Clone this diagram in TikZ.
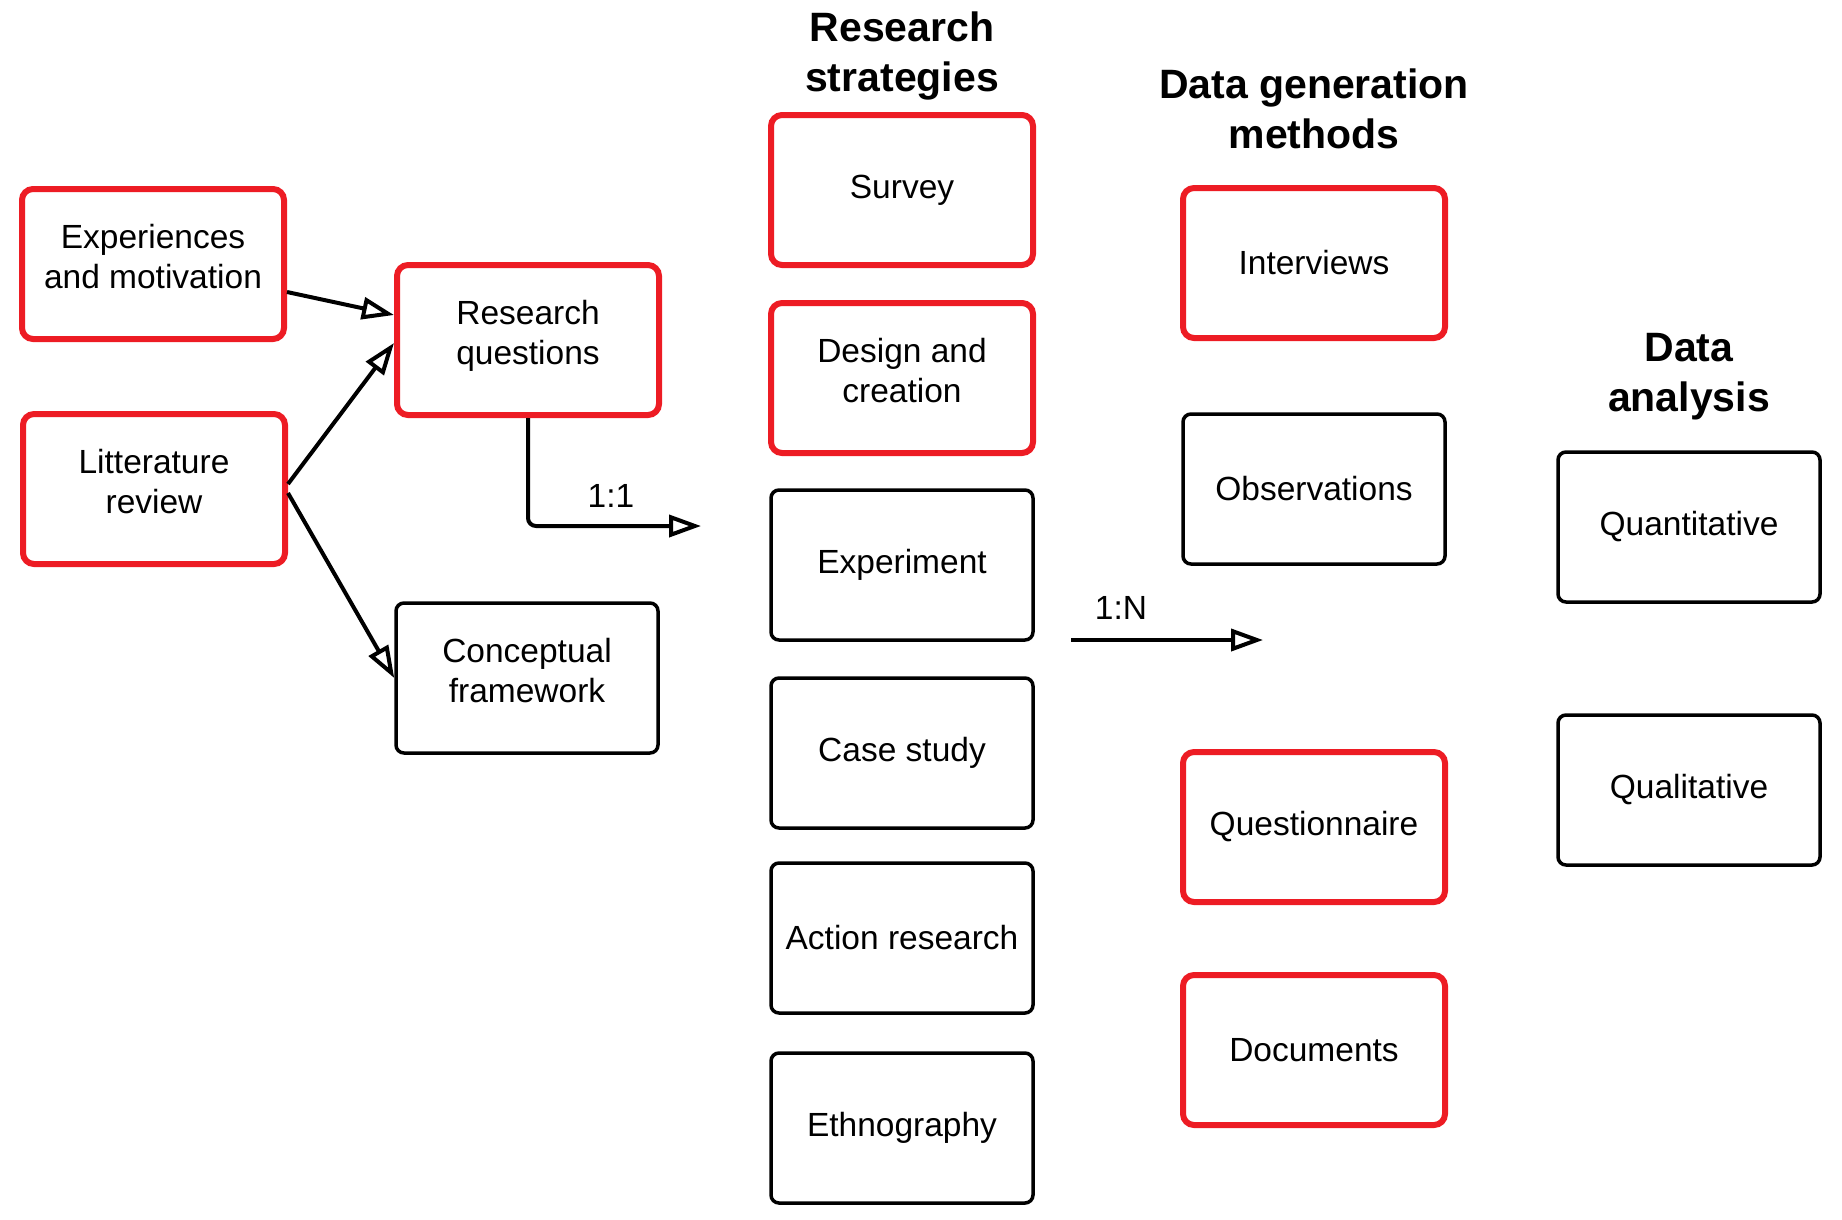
\documentclass[tikz,border=0pt]{standalone}
\usepackage{fontspec}
\setmainfont{Liberation Sans}
\usetikzlibrary{arrows.meta}
\definecolor{boxred}{RGB}{237,28,36}
\newcommand{\mytwoline}[2]{\raisebox{3.5pt}[\height][\depth]{\begin{tabular}{@{}c@{}}#1\\#2\end{tabular}}}
\begin{document}
\begin{tikzpicture}[x=1pt,y=-1pt,
  box/.style={draw=black,line width=3.5pt,rounded corners=8pt,fill=white,
    minimum width=262pt,minimum height=150pt,inner sep=0pt,align=center,
    font=\fontsize{33.5}{40}\selectfont},
  redbox/.style={box,draw=boxred,line width=6pt,rounded corners=11pt},
  title/.style={align=center,font=\fontsize{41}{50}\selectfont\bfseries},
  lbl/.style={font=\fontsize{33.5}{40}\selectfont},
  conn/.style={line width=4pt,-{Triangle[open,length=32pt,width=22pt,line width=4pt]}}]
\useasboundingbox (0,0) rectangle (1842,1219);
% titles
\node[title] (t1) at (902,56) {Research\\strategies};
\node[title] (t2) at (1314,109) {Data generation\\methods};
\node[title] (t3) at (1689,377) {Data\\analysis};
% left column
\node[redbox] (exp) at (153,264) {\mytwoline{Experiences}{and motivation}};
\node[redbox] (lit) at (154,489) {\mytwoline{Litterature}{review}};
\node[redbox] (rq) at (528,340) {\mytwoline{Research}{questions}};
\node[box] (cf) at (527,678) {\mytwoline{Conceptual}{framework}};
% strategies
\node[redbox] (survey) at (902,190) {Survey};
\node[redbox] (design) at (902,378) {\mytwoline{Design and}{creation}};
\node[box] (experiment) at (902,565) {Experiment};
\node[box] (case) at (902,753) {Case study};
\node[box] (action) at (902,938) {Action research};
\node[box] (ethno) at (902,1128) {Ethnography};
% data generation
\node[redbox] (interv) at (1314,263) {Interviews};
\node[box] (obs) at (1314,489) {Observations};
\node[redbox] (quest) at (1314,827) {Questionnaire};
\node[redbox] (docs) at (1314,1050) {Documents};
% analysis
\node[box] (quant) at (1689,527) {Quantitative};
\node[box] (qual) at (1689,790) {Qualitative};
% connectors
\draw[conn] ([yshift=-28pt]exp.east) -- ([yshift=25pt]rq.west);
\draw[conn] ([yshift=5pt]lit.east) -- ([yshift=-3pt]rq.west);
\draw[conn] ([yshift=-4pt]lit.east) -- (cf.west);
\coordinate (c11) at (701,526);
\draw[conn,rounded corners=8pt] (rq.south) |- (c11);
\node[lbl] (l11) at (611,496) {1:1};
\coordinate (n1) at (1071,640);
\coordinate (n2) at (1263,640);
\draw[conn] (n1) -- (n2);
\node[lbl] (l1n) at (1121,608) {1:N};
\end{tikzpicture}
\end{document}
